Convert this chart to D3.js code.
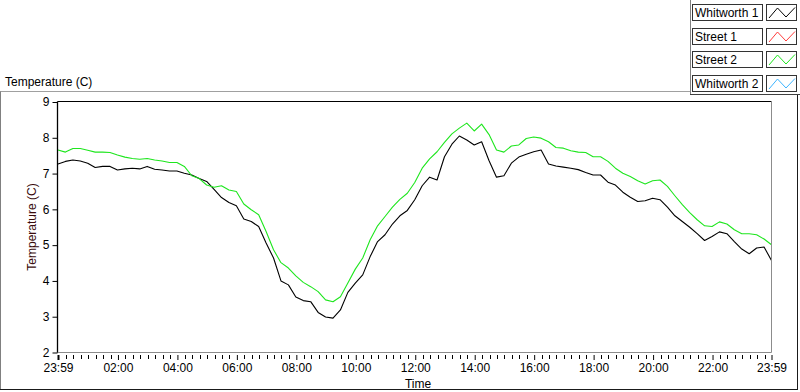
<!DOCTYPE html>
<html>
<head>
<meta charset="utf-8">
<script src="https://cdnjs.cloudflare.com/ajax/libs/d3/7.8.5/d3.min.js"></script>
<style>
  body { margin: 0; background: #fff; }
  text { font-family: 'Liberation Sans', Arial, sans-serif; font-size: 12px; fill: #000; }
</style>
</head>
<body>
<div id="viz"></div>
<script>
  // readings every 15 minutes, starting 23:59
  var seriesNames = ['Whitworth 1', 'Street 1', 'Street 2', 'Whitworth 2'],
      seriesColors = ['#000000', '#ff3c3c', '#1ee61e', '#3cb4ff'];

  var whitworth1 = [
    7.27, 7.34, 7.38, 7.35, 7.29, 7.17, 7.20, 7.20, 7.10, 7.13,
    7.15, 7.13, 7.20, 7.12, 7.10, 7.07, 7.07, 7.01, 6.96, 6.86,
    6.78, 6.56, 6.33, 6.19, 6.10, 5.73, 5.66, 5.52, 5.06, 4.64,
    4.00, 3.89, 3.55, 3.45, 3.42, 3.12, 2.99, 2.96, 3.19, 3.68,
    3.94, 4.17, 4.68, 5.10, 5.29, 5.59, 5.82, 5.97, 6.27, 6.66,
    6.90, 6.82, 7.47, 7.82, 8.05, 7.94, 7.80, 7.89, 7.36, 6.90,
    6.94, 7.29, 7.46, 7.54, 7.61, 7.66, 7.27, 7.21, 7.18, 7.15,
    7.11, 7.03, 6.96, 6.96, 6.76, 6.68, 6.48, 6.34, 6.22, 6.24,
    6.31, 6.27, 6.06, 5.82, 5.66, 5.50, 5.32, 5.13, 5.24, 5.37,
    5.32, 5.10, 4.89, 4.76, 4.92, 4.95, 4.57];

  var street1 = [];

  var street2 = [
    7.66, 7.60, 7.70, 7.70, 7.65, 7.60, 7.60, 7.59, 7.52, 7.46,
    7.42, 7.40, 7.42, 7.38, 7.35, 7.31, 7.31, 7.20, 6.94, 6.86,
    6.68, 6.62, 6.66, 6.54, 6.50, 6.15, 5.99, 5.85, 5.38, 4.87,
    4.51, 4.36, 4.14, 3.96, 3.84, 3.70, 3.47, 3.42, 3.56, 3.94,
    4.33, 4.64, 5.15, 5.54, 5.80, 6.06, 6.28, 6.45, 6.75, 7.15,
    7.41, 7.61, 7.87, 8.11, 8.27, 8.41, 8.19, 8.38, 8.09, 7.66,
    7.60, 7.77, 7.80, 7.98, 8.02, 7.99, 7.89, 7.73, 7.71, 7.64,
    7.60, 7.59, 7.47, 7.47, 7.34, 7.15, 7.01, 6.92, 6.80, 6.71,
    6.80, 6.82, 6.64, 6.38, 6.13, 5.91, 5.71, 5.54, 5.52, 5.65,
    5.59, 5.43, 5.32, 5.32, 5.29, 5.17, 5.01];

  var whitworth2 = [];

  var xTickLabels = ['23:59', '02:00', '04:00', '06:00', '08:00', '10:00', '12:00',
                     '14:00', '16:00', '18:00', '20:00', '22:00', '23:59'],
      yTicks = [2, 3, 4, 5, 6, 7, 8, 9];

  var width = 800, height = 392,
      plot = { left: 57.5, right: 771.5, top: 101.5, bottom: 352.5 },
      start = new Date(2000, 0, 1, 23, 59),
      end = new Date(2000, 0, 2, 23, 59),
      midnight = new Date(2000, 0, 2, 0, 0),
      stepMinutes = 15;

  var seriesData = [whitworth1, street1, street2, whitworth2];

  var xScale, yScale, svg, line;

  xScale = d3.scaleTime()
    .domain([start, end])
    .range([58, plot.right]);

  yScale = d3.scaleLinear()
    .domain([2, 9])
    .range([plot.bottom, plot.top + 0.5]);

  svg = d3.select('#viz').append('svg')
    .attr('width', width)
    .attr('height', height);

  svg.append('rect')
    .attr('width', width).attr('height', height)
    .attr('fill', '#fff');

  // outer panel frame
  var frame = svg.append('g').attr('fill', 'none');
  frame.append('path').attr('d', 'M0,91.5H690.5').attr('stroke', '#a0a0a0');
  frame.append('path').attr('d', 'M0.5,91.5V390').attr('stroke', '#808080');
  frame.append('path').attr('d', 'M0,389.5H798').attr('stroke', '#1a1a1a');
  frame.append('path').attr('d', 'M797.5,95V390').attr('stroke', '#1a1a1a');

  // plot area
  svg.append('clipPath').attr('id', 'clip')
    .append('rect')
    .attr('x', plot.left).attr('y', plot.top)
    .attr('width', plot.right - plot.left)
    .attr('height', plot.bottom - plot.top);

  line = d3.line()
    .x(function(d, i) { return xScale(d3.timeMinute.offset(start, i * stepMinutes)); })
    .y(function(d) { return yScale(d); });

  svg.append('g')
    .attr('clip-path', 'url(#clip)')
    .selectAll('path')
    .data(seriesData)
    .enter().append('path')
      .attr('fill', 'none')
      .attr('stroke', function(d, i) { return seriesColors[i]; })
      .attr('stroke-width', 1.1)
      .attr('stroke-linejoin', 'round')
      .attr('d', function(d) { return d.length ? line(d) : null; });

  // plot border: dark top/left, gray right/bottom
  svg.append('path').attr('d', 'M' + plot.left + ',' + plot.top + 'H' + plot.right)
    .attr('stroke', '#000').attr('fill', 'none');
  svg.append('path').attr('d', 'M' + plot.left + ',' + plot.top + 'V' + (plot.bottom + 0.5))
    .attr('stroke', '#000').attr('stroke-width', 1.3).attr('fill', 'none');
  svg.append('path').attr('d', 'M' + plot.right + ',' + plot.top + 'V' + plot.bottom + 'H' + plot.left)
    .attr('stroke', '#8c8c8c').attr('fill', 'none');

  // x axis
  var majorTimes = xTickLabels.map(function(s, i) {
    if (i === 0) return start;
    if (i === xTickLabels.length - 1) return end;
    var p = s.split(':');
    return new Date(2000, 0, 2, +p[0], +p[1]);
  });

  // minor ticks every quarter hour, skipping the 2-hour majors
  var minorTimes = d3.range(0, 96)
    .filter(function(k) { return k % 8 !== 0; })
    .map(function(k) { return d3.timeMinute.offset(midnight, k * 15); });

  svg.append('g')
    .attr('class', 'minor')
    .selectAll('rect')
    .data(minorTimes)
    .enter().append('rect')
      .attr('x', function(d) { return Math.round(xScale(d)); })
      .attr('y', plot.bottom + 2.5)
      .attr('width', 1)
      .attr('height', 4)
      .attr('fill', '#000');

  var xAxisMajor = d3.axisBottom(xScale)
    .tickValues(majorTimes)
    .tickSize(7)
    .tickPadding(3)
    .tickFormat(function(d, i) { return xTickLabels[i]; });

  var xMajorG = svg.append('g')
    .attr('transform', 'translate(0,' + (plot.bottom + 0.5) + ')')
    .call(xAxisMajor);
  xMajorG.select('.domain').remove();
  xMajorG.selectAll('text').attr('font-size', 12).attr('font-family', null).attr('fill', '#000');
  xMajorG.selectAll('.tick line').attr('stroke', '#000').attr('y1', 2);
  xMajorG.select('.tick line').attr('stroke-width', 2);

  // y axis
  var yAxis = d3.axisLeft(yScale)
    .tickValues(yTicks)
    .tickSize(5)
    .tickPadding(3)
    .tickFormat(d3.format('d'));

  var yG = svg.append('g')
    .attr('transform', 'translate(' + plot.left + ',0)')
    .call(yAxis);
  yG.select('.domain').remove();
  yG.selectAll('text').attr('font-size', 12).attr('font-family', null).attr('fill', '#000');

  // labels
  svg.append('text')
    .attr('x', 5).attr('y', 86)
    .text('Temperature (C)');

  svg.append('text')
    .attr('transform', 'translate(36,' + ((plot.top + plot.bottom) / 2) + ') rotate(-90)')
    .attr('text-anchor', 'middle')
    .style('fill', '#3a0c0c')
    .text('Temperature (C)');

  svg.append('text')
    .attr('x', 418).attr('y', 388)
    .attr('text-anchor', 'middle')
    .text('Time');

  // legend
  svg.append('path').attr('d', 'M690.5,0V95').attr('stroke', '#808080').attr('fill', 'none');
  svg.append('path').attr('d', 'M690,94.5H800').attr('stroke', '#404040').attr('fill', 'none');

  var legend = svg.append('g')
    .selectAll('g')
    .data(seriesNames)
    .enter().append('g')
      .attr('transform', function(d, i) { return 'translate(0,' + Math.round(4 + i * 23.7) + ')'; });

  legend.append('rect')
    .attr('x', 692.5).attr('y', 0.5)
    .attr('width', 70).attr('height', 16)
    .attr('fill', '#fff').attr('stroke', '#333');

  legend.append('text')
    .attr('x', 695).attr('y', 13)
    .text(function(d) { return d; });

  legend.append('rect')
    .attr('x', 766.5).attr('y', 0.5)
    .attr('width', 30).attr('height', 16)
    .attr('fill', '#fff').attr('stroke', '#333');

  legend.append('path')
    .attr('d', 'M769,14L777.5,4L786,13L795,3.5')
    .attr('fill', 'none')
    .attr('stroke', function(d, i) { return seriesColors[i]; });
</script>
</body>
</html>
